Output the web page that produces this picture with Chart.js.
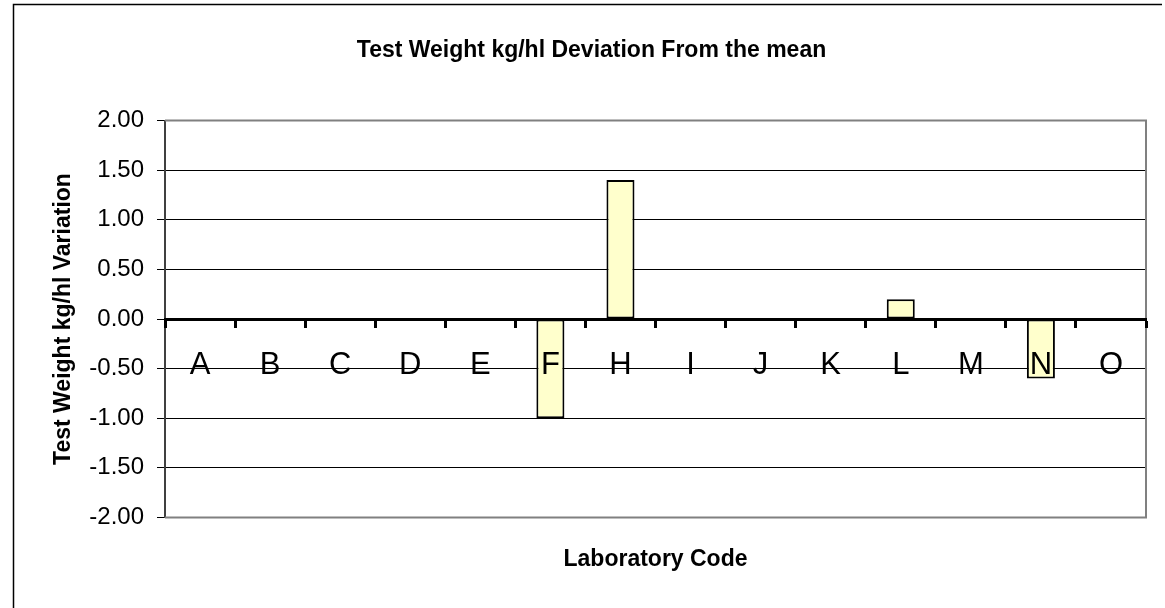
<!DOCTYPE html>
<html>
<head>
<meta charset="utf-8">
<title>Test Weight kg/hl Deviation From the mean</title>
<script src="https://cdn.jsdelivr.net/npm/chart.js"></script>
<style>
  html, body { margin: 0; padding: 0; background: #ffffff; }
  #devChart { display: block; }
</style>
</head>
<body>
<canvas id="devChart" width="1165" height="608"></canvas>
<script>
// Chart data
const labCodes = ['A', 'B', 'C', 'D', 'E', 'F', 'H', 'I', 'J', 'K', 'L', 'M', 'N', 'O'];
const deviations = [0, 0, 0, 0, 0, -1.00, 1.40, 0, 0, 0, 0.20, 0, -0.60, 0];
const yTicks = [-2.00, -1.50, -1.00, -0.50, 0.00, 0.50, 1.00, 1.50, 2.00];

const chartTitle = 'Test Weight kg/hl Deviation From the mean';
const xTitle = 'Laboratory Code';
const yTitle = 'Test Weight kg/hl Variation';

const FONT = "'Liberation Sans', Arial, sans-serif";

document.addEventListener('DOMContentLoaded', () => {

  // grey frame round the plot area (left side is the value axis)
  const plotFrame = {
    id: 'plotFrame',
    beforeDatasetsDraw(chart) {
      const { ctx, chartArea: a } = chart;
      ctx.save();
      ctx.strokeStyle = '#808080';
      ctx.lineWidth = 2;
      ctx.beginPath();
      ctx.moveTo(a.left, a.top);
      ctx.lineTo(a.right, a.top);
      ctx.lineTo(a.right, a.bottom);
      ctx.lineTo(a.left, a.bottom);
      ctx.stroke();
      ctx.restore();
    }
  };

  // outer chart box, only top and left edges are inside the picture
  const outerBox = {
    id: 'outerBox',
    afterDraw(chart) {
      const ctx = chart.ctx;
      ctx.save();
      ctx.strokeStyle = '#000000';
      ctx.lineWidth = 1.5;
      ctx.beginPath();
      ctx.moveTo(13.5, chart.height);
      ctx.lineTo(13.5, 4.5);
      ctx.lineTo(1162, 4.5);
      ctx.stroke();
      ctx.restore();
    }
  };

  const ctx = document.getElementById('devChart').getContext('2d');

  new Chart(ctx, {
    type: 'bar',
    data: {
      labels: labCodes,
      datasets: [{
        data: deviations,
        backgroundColor: '#FFFFCC',
        borderColor: '#000000',
        borderWidth: 2,
        borderSkipped: false,
        categoryPercentage: 1.0,
        barPercentage: 0.4
      }]
    },
    options: {
      responsive: false,
      animation: false,
      layout: { padding: { left: 37, right: 19, top: 0, bottom: 0 } },
      plugins: {
        legend: { display: false },
        tooltip: { enabled: false },
        title: {
          display: true,
          text: chartTitle,
          color: '#000000',
          font: { family: FONT, size: 23, weight: 'bold' },
          padding: { top: 37, bottom: 56 }
        },
        subtitle: {
          display: true,
          text: xTitle,
          position: 'bottom',
          fullSize: false,
          color: '#000000',
          font: { family: FONT, size: 23, weight: 'bold' },
          padding: { top: 28, bottom: 35 }
        }
      },
      scales: {
        x: {
          position: { y: 0 },
          // axis line, ticks and letters go over the bars
          grid: {
            display: true,
            drawOnChartArea: false,
            drawTicks: true,
            tickLength: 7,
            tickWidth: 3,
            tickColor: '#000000',
            z: 1
          },
          border: { display: true, color: '#000000', width: 3, z: 1 },
          ticks: {
            color: '#000000',
            font: { family: FONT, size: 31 },
            padding: 21,
            autoSkip: false,
            maxRotation: 0,
            z: 1
          }
        },
        y: {
          min: -2,
          max: 2,
          afterBuildTicks: (scale) => {
            scale.ticks = yTicks.map(v => ({ value: v }));
          },
          afterFit: (scale) => {
            scale.width = 128;
          },
          grid: {
            color: '#000000',
            lineWidth: 1,
            drawTicks: true,
            tickLength: 8,
            tickColor: '#000000'
          },
          border: { display: true, color: '#404040', width: 2 },
          ticks: {
            color: '#000000',
            font: { family: FONT, size: 24 },
            padding: 13,
            callback: (value) => Number(value).toFixed(2)
          },
          title: {
            display: true,
            text: yTitle,
            color: '#000000',
            font: { family: FONT, size: 23, weight: 'bold' },
            padding: { top: 13, bottom: 0 }
          }
        }
      }
    },
    plugins: [plotFrame, outerBox]
  });

});
</script>
</body>
</html>
